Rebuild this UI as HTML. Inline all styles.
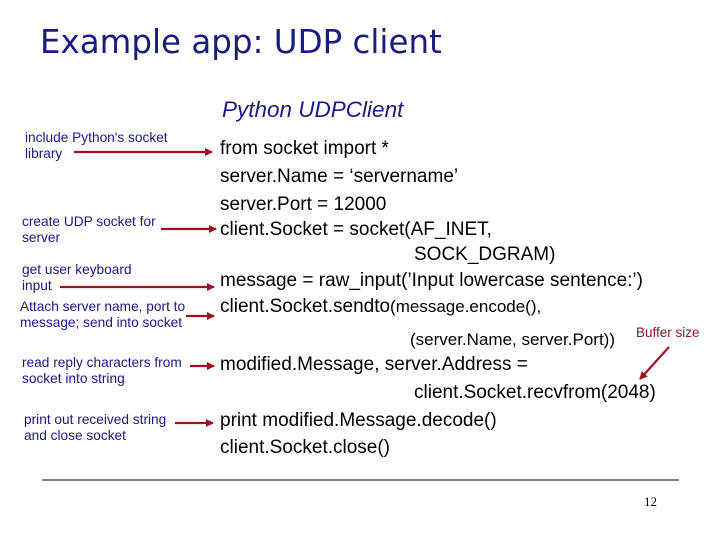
<!DOCTYPE html><html><head><style>
body{margin:0;width:720px;height:540px;background:#fff;position:relative;overflow:hidden;font-family:"Liberation Sans",sans-serif}
.a{position:absolute;white-space:nowrap}
.t{color:#1a1a80;font-family:"DejaVu Sans",sans-serif;font-size:32.5px;left:40px;top:23px}
.l{color:#1a1a80;font-size:13.7px;line-height:16px}
.c{color:#000;font-size:19px;line-height:22px}
.s{font-size:17px}
</style></head><body>
<div class="a t">Example app: UDP client</div>
<div class="a" style="left:222px;top:97px;font-size:22.5px;font-style:italic;color:#1a1a80">Python UDPClient</div>
<div class="a l" style="left:25px;top:130px">include Python's socket<br>library</div>
<div class="a l" style="left:22px;top:214px">create UDP socket for<br>server</div>
<div class="a l" style="left:22px;top:262px">get user keyboard<br>input</div>
<div class="a l" style="left:20px;top:299px">Attach server name, port to<br>message; send into socket</div>
<div class="a l" style="left:22px;top:355px">read reply characters from<br>socket into string</div>
<div class="a l" style="left:24px;top:412px">print out received string<br>and close socket</div>
<div class="a c" style="left:220px;top:138px">from socket import *</div>
<div class="a c" style="left:220px;top:166px">server.Name = ‘servername’</div>
<div class="a c" style="left:220px;top:194px">server.Port = 12000</div>
<div class="a c" style="left:220px;top:219px">client.Socket = socket(AF_INET,</div>
<div class="a c" style="left:414px;top:244px">SOCK_DGRAM)</div>
<div class="a c" style="left:220px;top:270px">message = raw_input(’Input lowercase sentence:’)</div>
<div class="a c" style="left:220px;top:296px">client.Socket.sendto<span class="s">(message.encode(),</span></div>
<div class="a c s" style="left:410px;top:329px">(server.Name, server.Port))</div>
<div class="a" style="left:636px;top:325px;font-size:13.5px;color:#8b1a2a">Buffer size</div>
<div class="a c" style="left:220px;top:354px">modified.Message, server.Address =</div>
<div class="a c" style="left:414px;top:382px">client.Socket.recvfrom(2048)</div>
<div class="a c" style="left:220px;top:410px">print modified.Message.decode()</div>
<div class="a c" style="left:220px;top:437px">client.Socket.close()</div>
<div class="a" style="left:644px;top:494px;font-size:13px;font-family:'Liberation Serif',serif">12</div>
<svg class="a" style="left:0;top:0" width="720" height="540">
<defs><marker id="m" markerWidth="8" markerHeight="8" refX="7" refY="4" orient="auto" markerUnits="userSpaceOnUse"><path d="M0,0L8,4L0,8z" fill="#a01020"/></marker></defs>
<g stroke="#a01020" stroke-width="2.2" marker-end="url(#m)">
<line x1="74" y1="152" x2="212" y2="152"/>
<line x1="161" y1="229" x2="216" y2="229"/>
<line x1="60" y1="287" x2="214" y2="287"/>
<line x1="186" y1="316" x2="214" y2="316"/>
<line x1="190" y1="366" x2="214" y2="366"/>
<line x1="175" y1="423" x2="213" y2="423"/>
<line x1="669" y1="347" x2="640" y2="379"/>
</g>
<line x1="42" y1="480" x2="679" y2="480" stroke="#000" stroke-width="1"/>
</svg>
</body></html>
